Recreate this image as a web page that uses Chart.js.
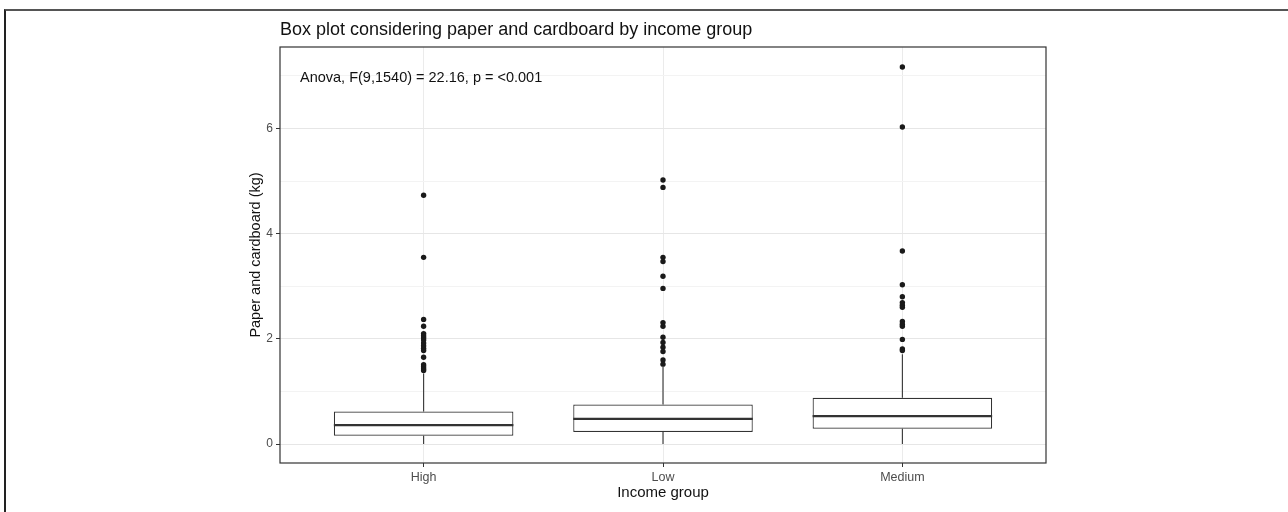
<!DOCTYPE html>
<html>
<head>
<meta charset="utf-8">
<script src="https://cdn.jsdelivr.net/npm/chart.js@4.4.1/dist/chart.umd.min.js"></script>
<style>
    body { margin: 0; background: #fff; }
    #wrap { position: relative; width: 1288px; height: 512px; }
    #frame { position: absolute; left: 4px; top: 9px; right: 0; bottom: 0;
             border-top: 2px solid #555; border-left: 2px solid #222; pointer-events: none; }
</style>
</head>
<body>
<div id="wrap">
    <canvas id="boxChart" width="1288" height="512"></canvas>
    <div id="frame"></div>
</div>
<script>
// income groups and box statistics
const groups = ['High', 'Low', 'Medium'];
const whiskerLow = [0, 0, 0];
const q1 = [0.16, 0.23, 0.29];
const median = [0.36, 0.48, 0.53];
const q3 = [0.62, 0.75, 0.88];
const whiskerHigh = [1.34, 1.47, 1.71];
const outliersHigh = [4.73, 3.55, 2.37, 2.24, 2.10, 2.06, 2.02, 1.98, 1.92, 1.87, 1.82, 1.78, 1.65, 1.51, 1.47, 1.43, 1.40];
const outliersLow = [5.02, 4.88, 3.55, 3.47, 3.19, 2.96, 2.31, 2.24, 2.03, 1.93, 1.84, 1.76, 1.60, 1.52];
const outliersMedium = [7.17, 6.03, 3.67, 3.03, 2.80, 2.69, 2.64, 2.60, 2.33, 2.28, 2.24, 1.99, 1.81, 1.78];
const yTicks = [0, 1, 2, 3, 4, 5, 6, 7];

const boxWidth = 0.75;
const FONT = "'Liberation Sans', Arial, sans-serif";

const outliers = [outliersHigh, outliersLow, outliersMedium];
const boxData = groups.map((g, i) => ({ x: i + 1, y: [q1[i], q3[i]] }));
const whiskerData = [];
const medianData = [];
const outlierData = [];
groups.forEach((g, i) => {
    const x = i + 1;
    whiskerData.push({ x: x, y: whiskerLow[i] }, { x: x, y: q1[i] }, { x: x, y: null });
    whiskerData.push({ x: x, y: q3[i] }, { x: x, y: whiskerHigh[i] }, { x: x, y: null });
    medianData.push({ x: x - boxWidth / 2, y: median[i] }, { x: x + boxWidth / 2, y: median[i] }, { x: x, y: null });
    outliers[i].forEach(v => outlierData.push({ x: x, y: v }));
});

const panelText = {
    id: 'panelText',
    afterDatasetsDraw(chart) {
        const { ctx, chartArea } = chart;
        ctx.save();
        ctx.strokeStyle = '#333';
        ctx.lineWidth = 1.2;
        ctx.strokeRect(chartArea.left, chartArea.top, chartArea.right - chartArea.left, chartArea.bottom - chartArea.top);
        ctx.fillStyle = '#111';
        ctx.textAlign = 'left';
        ctx.textBaseline = 'alphabetic';
        ctx.font = '18px ' + FONT;
        ctx.fillText('Box plot considering paper and cardboard by income group', chartArea.left, 35);
        ctx.font = '14.5px ' + FONT;
        ctx.fillText('Anova, F(9,1540) = 22.16, p = <0.001', chartArea.left + 20, 81.5);
        ctx.restore();
    }
};

const ctx = document.getElementById('boxChart').getContext('2d');
new Chart(ctx, {
    data: {
        datasets: [
            {
                type: 'line',
                data: medianData,
                borderColor: '#333',
                borderWidth: 2.2,
                pointRadius: 0,
                spanGaps: false,
                order: 0
            },
            {
                type: 'scatter',
                data: outlierData,
                backgroundColor: '#1a1a1a',
                borderWidth: 0,
                pointRadius: 2.7,
                order: 0
            },
            {
                type: 'bar',
                data: boxData,
                backgroundColor: '#fff',
                borderColor: '#333',
                borderWidth: 1.2,
                borderSkipped: false,
                categoryPercentage: 1,
                barPercentage: boxWidth,
                order: 1
            },
            {
                type: 'line',
                data: whiskerData,
                borderColor: '#333',
                borderWidth: 1.1,
                pointRadius: 0,
                spanGaps: false,
                order: 2
            }
        ]
    },
    options: {
        responsive: false,
        animation: false,
        layout: { padding: { left: 240, right: 242, top: 47, bottom: 10 } },
        plugins: { legend: { display: false }, tooltip: { enabled: false } },
        scales: {
            x: {
                type: 'linear',
                min: 0.4,
                max: 3.6,
                offset: false,
                afterBuildTicks: s => { s.ticks = groups.map((g, i) => ({ value: i + 1 })); },
                afterFit: s => { s.height = 39; },
                ticks: {
                    callback: v => groups[v - 1],
                    color: '#4d4d4d',
                    font: { family: FONT, size: 12.5 },
                    padding: 3,
                    maxRotation: 0
                },
                grid: { offset: false, color: '#ebebeb', tickColor: '#333', tickLength: 4, lineWidth: 1 },
                border: { display: false },
                title: {
                    display: true,
                    text: 'Income group',
                    color: '#111',
                    font: { family: FONT, size: 15 },
                    padding: { top: 0, bottom: 0 }
                }
            },
            y: {
                min: -0.36,
                max: 7.55,
                afterBuildTicks: s => { s.ticks = yTicks.map(v => ({ value: v })); },
                afterFit: s => { s.width = 40; },
                ticks: {
                    callback: v => (v % 2 === 0 ? v : ''),
                    color: '#4d4d4d',
                    font: { family: FONT, size: 12 },
                    padding: 3
                },
                grid: {
                    color: c => (c.tick && c.tick.value % 2 === 0 ? '#e6e6e6' : '#f3f3f3'),
                    tickColor: c => (c.tick && c.tick.value % 2 === 0 ? '#333' : 'rgba(0,0,0,0)'),
                    tickLength: 4,
                    lineWidth: 1
                },
                border: { display: false },
                title: {
                    display: true,
                    text: 'Paper and cardboard (kg)',
                    color: '#111',
                    font: { family: FONT, size: 14.5 },
                    padding: { top: 7, bottom: 0 }
                }
            }
        }
    },
    plugins: [panelText]
});
</script>
</body>
</html>
